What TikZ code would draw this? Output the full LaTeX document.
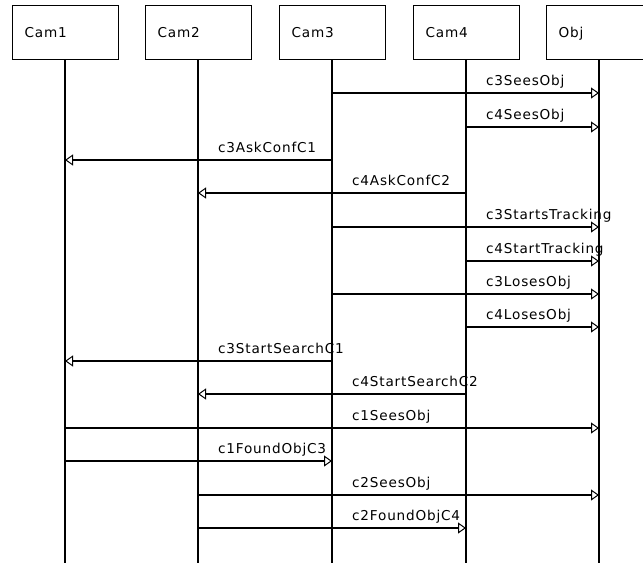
\documentclass[tikz,border=0pt]{standalone}
\usepackage{fontspec}
\setmainfont{DejaVu Sans}[LetterSpace=6]
\usetikzlibrary{arrows.meta}
\begin{document}
\begin{tikzpicture}[x=1pt,y=-1pt,
  every node/.style={font=\fontsize{13.6}{16}\selectfont, inner sep=0pt},
  actor/.style={draw, line width=1pt, minimum width=106pt, minimum height=54pt,
    anchor=north},
  actorname/.style={anchor=base west},
  lifeline/.style={line width=2pt},
  msg/.style={line width=2pt, -{Triangle[open, length=8pt, width=11pt, line width=1pt]}},
  lbl/.style={anchor=base west}]
\useasboundingbox (0,0) rectangle (643,563);
% participants: box plus name set near its left side
\foreach \p/\x/\t in {cam1/65/Cam1, cam2/198/Cam2, cam3/332/Cam3, cam4/466/Cam4, obj/599/Obj}{
  \node[actor] (\p) at (\x,5) {};
  \node[actorname] (\p name) at ([xshift=13pt]\p.west |- 0,37) {\t};
}
% lifelines
\foreach \p in {cam1,cam2,cam3,cam4,obj}{
  \coordinate (\p end) at (\p.south |- 0,563);
  \draw[lifeline] (\p.south) -- (\p end);
}
% message rows
\foreach \i/\y in {1/93,2/127,3/160,4/193,5/227,6/261,7/294,8/327,9/361,10/394,11/428,12/461,13/495,14/528}{
  \coordinate (r\i) at (0,\y);
}
% messages
\draw[msg] (cam3 |- r1)  -- (obj |- r1);
\draw[msg] (cam4 |- r2)  -- (obj |- r2);
\draw[msg] (cam3 |- r3)  -- (cam1 |- r3);
\draw[msg] (cam4 |- r4)  -- (cam2 |- r4);
\draw[msg] (cam3 |- r5)  -- (obj |- r5);
\draw[msg] (cam4 |- r6)  -- (obj |- r6);
\draw[msg] (cam3 |- r7)  -- (obj |- r7);
\draw[msg] (cam4 |- r8)  -- (obj |- r8);
\draw[msg] (cam3 |- r9)  -- (cam1 |- r9);
\draw[msg] (cam4 |- r10) -- (cam2 |- r10);
\draw[msg] (cam1 |- r11) -- (obj |- r11);
\draw[msg] (cam1 |- r12) -- (cam3 |- r12);
\draw[msg] (cam2 |- r13) -- (obj |- r13);
\draw[msg] (cam2 |- r14) -- (cam4 |- r14);
% message labels
\node[lbl] (l1)  at (486,85)  {c3SeesObj};
\node[lbl] (l2)  at (486,119) {c4SeesObj};
\node[lbl] (l3)  at (218,152) {c3AskConfC1};
\node[lbl] (l4)  at (352,185) {c4AskConfC2};
\node[lbl] (l5)  at (486,219) {c3StartsTracking};
\node[lbl] (l6)  at (486,253) {c4StartTracking};
\node[lbl] (l7)  at (486,286) {c3LosesObj};
\node[lbl] (l8)  at (486,319) {c4LosesObj};
\node[lbl] (l9)  at (218,353) {c3StartSearchC1};
\node[lbl] (l10) at (352,386) {c4StartSearchC2};
\node[lbl] (l11) at (352,420) {c1SeesObj};
\node[lbl] (l12) at (218,453) {c1FoundObjC3};
\node[lbl] (l13) at (352,487) {c2SeesObj};
\node[lbl] (l14) at (352,520) {c2FoundObjC4};
\end{tikzpicture}
\end{document}
